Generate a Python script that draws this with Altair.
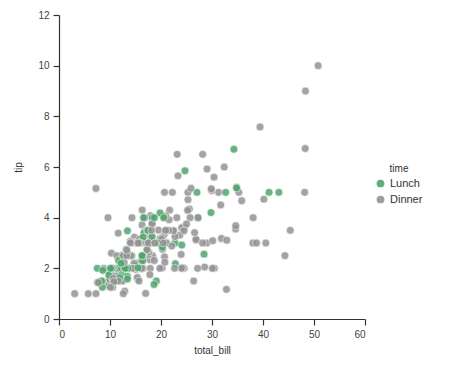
import altair as alt
import pandas as pd

total_bill = [
16.99,10.34,21.01,23.68,24.59,25.29,8.77,26.88,15.04,14.78,10.27,35.26,15.42,18.43,14.83,21.58,10.33,16.29,16.97,20.65,
17.92,20.29,15.77,39.42,19.82,17.81,13.37,12.69,21.70,19.65,9.55,18.35,15.06,20.69,17.78,24.06,16.31,16.93,18.69,31.27,
16.04,17.46,13.94,9.68,30.40,18.29,22.23,32.40,28.55,18.04,12.54,10.29,34.81,9.94,25.56,19.49,38.01,26.41,11.24,48.27,
20.29,13.81,11.02,18.29,17.59,20.08,16.45,3.07,20.23,15.01,12.02,17.07,26.86,25.28,14.73,10.51,17.92,27.20,22.76,17.29,
19.44,16.66,10.07,32.68,15.98,34.83,13.03,18.28,24.71,21.16,28.97,22.49,5.75,16.32,22.75,40.17,27.28,12.03,21.01,12.46,
11.35,15.38,44.30,22.42,20.92,15.36,20.49,25.21,18.24,14.31,14.00,7.25,38.07,23.95,25.71,17.31,29.93,10.65,12.43,24.08,
11.69,13.42,14.26,15.95,12.48,29.80,8.52,14.52,11.38,22.82,19.08,20.27,11.17,12.26,18.26,8.51,10.33,14.15,16.00,13.16,
17.47,34.30,41.19,27.05,16.43,8.35,18.64,11.87,9.78,7.51,14.07,13.13,17.26,24.55,19.77,29.85,48.17,25.00,13.39,16.49,
21.50,12.66,16.21,13.81,17.51,24.52,20.76,31.71,10.59,10.63,50.81,15.81,7.25,31.85,16.82,32.90,17.89,14.48,9.60,34.63,
34.65,23.33,45.35,23.17,40.55,20.69,20.90,30.46,18.15,23.10,15.69,19.81,28.44,15.48,16.58,7.56,10.34,43.11,13.00,13.51,
18.71,12.74,13.00,16.40,20.53,16.47,26.59,38.73,24.27,12.76,30.06,25.89,48.33,13.27,28.17,12.90,28.15,11.59,7.74,30.14,
12.16,13.42,8.58,15.98,13.42,16.27,10.09,20.45,13.28,22.12,24.01,15.69,11.61,10.77,15.53,10.07,12.60,32.83,35.83,29.03,
27.18,22.67,17.82,18.78]

tip = [
1.01,1.66,3.50,3.31,3.61,4.71,2.00,3.12,1.96,3.23,1.71,5.00,1.57,3.00,3.02,3.92,1.67,3.71,3.50,3.35,
4.08,2.75,2.23,7.58,3.18,2.34,2.00,2.00,4.30,3.00,1.45,2.50,3.00,2.45,3.27,3.60,2.00,3.07,2.31,5.00,
2.24,2.54,3.06,1.32,5.60,3.00,5.00,6.00,2.05,3.00,2.50,2.60,5.20,1.56,4.34,3.51,3.00,1.50,1.76,6.73,
3.21,2.00,1.98,3.76,2.64,3.15,2.47,1.00,2.01,2.09,1.97,3.00,3.14,5.00,2.20,1.25,3.08,4.00,3.00,2.71,
3.00,3.40,1.83,5.00,2.03,5.17,2.00,4.00,5.85,3.00,3.00,3.50,1.00,4.30,3.25,4.73,4.00,1.50,3.00,1.50,
2.50,3.00,2.50,3.48,4.08,1.64,4.06,4.29,3.76,4.00,3.00,1.00,4.00,2.55,4.00,3.50,5.07,1.50,1.80,2.92,
2.31,1.68,2.50,2.00,2.52,4.20,1.48,2.00,2.00,2.18,1.50,2.83,1.50,2.00,3.25,1.25,2.00,2.00,2.00,2.75,
3.50,6.70,5.00,5.00,2.30,1.50,1.36,1.63,1.73,2.00,2.50,2.00,2.74,2.00,2.00,5.14,5.00,3.75,2.61,2.00,
3.50,2.50,2.00,2.00,3.00,3.48,2.24,4.50,1.61,2.00,10.00,3.16,5.15,3.18,4.00,3.11,2.00,2.00,4.00,3.55,
3.68,5.65,3.50,6.50,3.00,5.00,3.50,2.00,3.50,4.00,1.50,4.19,2.56,2.02,4.00,1.44,2.00,5.00,2.00,2.00,
4.00,2.01,2.00,2.50,4.00,3.23,3.41,3.00,2.03,2.23,2.00,5.16,9.00,2.50,6.50,1.10,3.00,1.50,1.44,3.09,
2.20,3.48,1.92,3.00,1.58,2.50,2.00,3.00,2.72,2.88,2.00,3.00,3.39,1.47,3.00,1.25,1.00,1.17,4.67,5.92,
2.00,2.00,1.75,3.00]

# row ranges (1-based) that are Lunch
lunch_rows = set(list(range(78, 91)) + list(range(118, 151)) + list(range(192, 207)) + list(range(221, 228)))
time = ["Lunch" if (i + 1) in lunch_rows else "Dinner" for i in range(len(total_bill))]

df = pd.DataFrame({"total_bill": total_bill, "tip": tip, "time": time})

FONT = "Liberation Sans"

chart = alt.Chart(df).mark_circle(size=62, opacity=0.85, stroke="white", strokeWidth=0.6).encode(
    x=alt.X("total_bill:Q", title="total_bill",
            scale=alt.Scale(domain=[0, 60], nice=False, zero=False),
            axis=alt.Axis(values=[0, 10, 20, 30, 40, 50, 60], grid=False, titlePadding=6)),
    y=alt.Y("tip:Q", title="tip",
            scale=alt.Scale(domain=[0, 12], nice=False, zero=False),
            axis=alt.Axis(values=[0, 2, 4, 6, 8, 10, 12], grid=False, titlePadding=14)),
    color=alt.Color("time:N", title="time",
                    scale=alt.Scale(domain=["Lunch", "Dinner"], range=["#4fa56c", "#939393"]),
                    legend=alt.Legend(orient="none", legendX=316, legendY=149,
                                      titleAnchor="middle", symbolType="circle",
                                      symbolSize=60, symbolStrokeWidth=0, labelFontSize=11,
                                      titleFontSize=10, titleFontWeight="normal",
                                      labelFont=FONT, titleFont=FONT,
                                      labelColor="#333333", titleColor="#333333",
                                      symbolOpacity=0.9, rowPadding=4, titlePadding=4)),
).properties(
    width=306, height=304,
    autosize=alt.AutoSizeParams(type="none"),
    padding={"left": 51, "top": 7, "right": 85, "bottom": 44},
).configure_view(stroke=None).configure_axis(
    domainColor="#333333", tickColor="#333333", tickSize=6, domainWidth=1.2, tickWidth=1.2,
    labelFont=FONT, titleFont=FONT, labelFontSize=10, titleFontSize=10,
    labelColor="#444444", titleColor="#333333", titleFontWeight="normal", labelPadding=4,
)

chart.save("out.html", embed_options={"renderer": "svg", "actions": False})
